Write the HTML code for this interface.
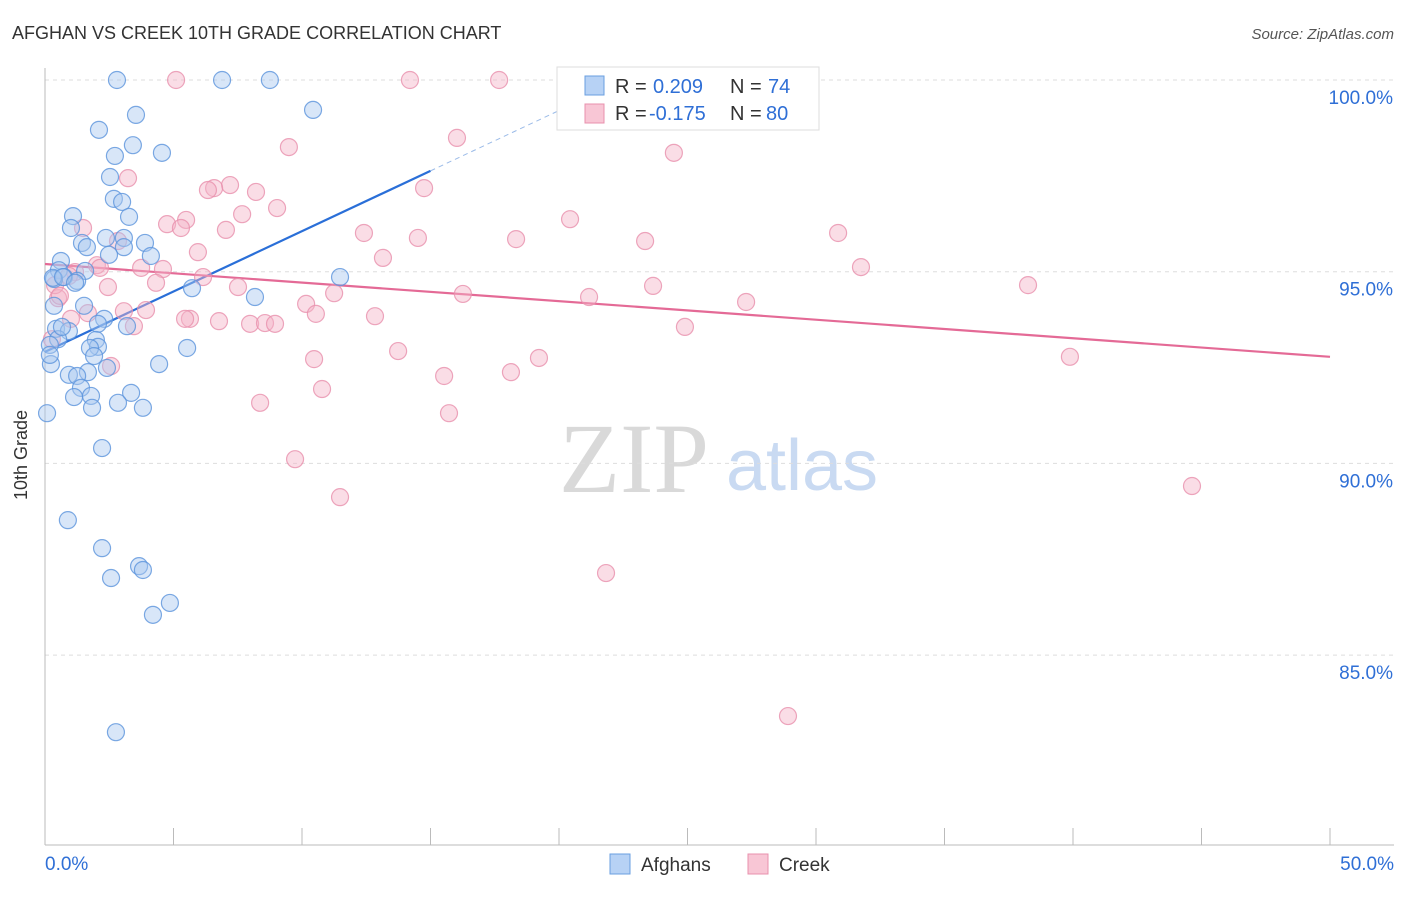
<!DOCTYPE html>
<html><head><meta charset="utf-8"><style>
body{margin:0;background:#fff;font-family:"Liberation Sans",sans-serif}
svg text{font-family:"Liberation Sans",sans-serif}
</style></head><body>
<svg id="c" width="1406" height="892" viewBox="0 0 1406 892">
<text x="12" y="39" font-size="18" fill="#333">AFGHAN VS CREEK 10TH GRADE CORRELATION CHART</text>
<text x="1394" y="39" font-size="15" fill="#555" text-anchor="end" font-style="italic">Source: ZipAtlas.com</text>
<text x="27" y="455" font-size="18" fill="#333" text-anchor="middle" transform="rotate(-90 27 455)">10th Grade</text>
<g><text x="634" y="492" font-size="100" fill="#d9d9d9" text-anchor="middle" style="font-family:'Liberation Serif',serif">ZIP</text><text x="802" y="490" font-size="72" fill="#c9daf2" text-anchor="middle">atlas</text></g>
<g id="grid"></g><g id="axes"></g><g id="lines"></g><g id="pts"></g>
<g>
<rect x="557" y="67" width="262" height="63" fill="#fff" stroke="#ddd"/>
<rect x="585" y="76" width="19" height="19" fill="#b7d2f5" stroke="#6a9fe0"/>
<rect x="585" y="104" width="19" height="19" fill="#f8c6d5" stroke="#e890ad"/>
<text x="615" y="93" font-size="20" fill="#333">R =</text>
<text x="653" y="93" font-size="20" fill="#2f6fd6">0.209</text>
<text x="730" y="93" font-size="20" fill="#333">N =</text>
<text x="768" y="93" font-size="20" fill="#2f6fd6">74</text>
<text x="615" y="120" font-size="20" fill="#333">R =</text>
<text x="649" y="120" font-size="20" fill="#2f6fd6">-0.175</text>
<text x="730" y="120" font-size="20" fill="#333">N =</text>
<text x="766" y="120" font-size="20" fill="#2f6fd6">80</text>
</g>
<g>
<rect x="610" y="854" width="20" height="20" fill="#b7d2f5" stroke="#6a9fe0"/>
<text x="641" y="871" font-size="19" fill="#333">Afghans</text>
<rect x="748" y="854" width="20" height="20" fill="#f8c6d5" stroke="#e890ad"/>
<text x="779" y="871" font-size="19" fill="#333">Creek</text>
</g>
</svg>
<script>
const xTicks=[0,5,10,15,20,25,30,35,40,45,50];
const yTicks=[100,95,90,85];
const yTickLabels=["100.0%","95.0%","90.0%","85.0%"];
const afghanX=[2.80,6.89,8.75,10.43,3.54,2.10,3.42,4.55,2.72,2.53,2.68,3.00,3.27,1.09,1.01,1.44,1.63,2.37,3.07,3.89,3.07,2.49,4.12,0.62,0.54,1.56,0.74,1.25,0.35,11.48,5.72,8.17,0.35,1.52,2.30,2.06,3.19,0.43,0.93,0.51,1.98,2.06,1.75,0.19,1.91,0.23,4.44,5.53,2.41,1.67,0.93,1.25,1.40,1.13,1.79,3.35,2.84,3.81,1.83,0.08,2.22,0.89,2.22,3.66,3.81,2.57,4.86,4.20,2.76,0.31,0.70,0.66,0.19,1.17];
const afghanY=[100,100,100,99.22,99.09,98.70,98.30,98.10,98.02,97.47,96.90,96.82,96.43,96.45,96.14,95.75,95.64,95.88,95.88,95.75,95.64,95.44,95.41,95.28,95.04,95.02,94.86,94.76,94.81,94.86,94.57,94.34,94.11,94.11,93.77,93.64,93.58,93.51,93.45,93.24,93.22,93.04,93.01,93.09,92.80,92.59,92.59,93.01,92.49,92.38,92.31,92.28,91.97,91.73,91.76,91.84,91.58,91.45,91.45,91.31,90.40,88.52,87.79,87.32,87.22,87.01,86.36,86.05,82.99,94.84,94.86,93.56,92.83,94.71];
const creekX=[5.10,14.20,17.67,22.84,16.03,9.49,24.47,3.23,7.20,14.75,6.58,6.34,8.21,9.03,7.67,20.43,5.49,4.75,5.29,1.48,7.04,12.41,30.86,14.51,18.33,23.35,2.84,5.95,13.15,2.02,3.74,4.59,31.75,1.17,6.15,4.32,2.45,7.51,23.66,38.25,16.26,11.25,21.17,27.28,0.51,10.16,10.54,3.93,3.07,1.67,5.64,6.77,7.98,8.56,8.95,3.46,12.84,24.90,13.74,10.47,39.88,19.22,2.57,15.53,18.13,10.78,8.37,15.72,9.73,11.48,44.63,21.83,28.91,0.39,0.93,0.58,0.27,2.14,1.01,5.45];
const creekY=[100,100,100,100,98.49,98.25,98.10,97.44,97.26,97.18,97.18,97.13,97.08,96.66,96.50,96.37,96.35,96.24,96.14,96.14,96.09,96.01,96.01,95.88,95.85,95.80,95.80,95.51,95.36,95.17,95.10,95.07,95.12,94.99,94.86,94.71,94.60,94.60,94.63,94.65,94.42,94.44,94.34,94.21,94.31,94.16,93.90,94.00,93.97,93.92,93.77,93.71,93.64,93.66,93.64,93.58,93.84,93.56,92.93,92.72,92.78,92.75,92.54,92.28,92.38,91.94,91.58,91.31,90.11,89.12,89.41,87.14,83.41,94.65,94.89,94.37,93.24,95.10,93.77,93.77];
const afghanTrend=[92.91,97.63];
const creekTrend=[95.20,92.78];
const NS="http://www.w3.org/2000/svg";
const X=v=>45+v*25.7, Y=v=>80+(100-v)*38.34;
function mk(t,a,p){const e=document.createElementNS(NS,t);for(const k in a)e.setAttribute(k,a[k]);p.appendChild(e);return e;}
const grid=document.getElementById('grid'),axes=document.getElementById('axes'),lines=document.getElementById('lines'),pts=document.getElementById('pts');
yTicks.forEach((t,i)=>{
 const l=mk('line',{x1:45,x2:1394,y1:Y(t),y2:Y(t),stroke:'#ddd','stroke-dasharray':'4 4'},grid);
 
 
 const tx=mk('text',{x:1393,y:Y(t)+24,'font-size':19,fill:'#2f6fd6','text-anchor':'end'},grid);
 tx.textContent=yTickLabels[i];
 
 
});
const xa=mk('line',{x1:45,x2:1394,y1:845,y2:845,stroke:'#bbb'},axes);


const ya=mk('line',{x1:45,x2:45,y1:68,y2:845,stroke:'#bbb'},axes);


xTicks.forEach(t=>{
 const l=mk('line',{x1:X(t),x2:X(t),y1:828,y2:845,stroke:'#bbb'},axes);
 
 
});
[[0,"0.0%","start",45],[50,"50.0%","end",1394]].forEach(d=>{
 const tx=mk('text',{x:d[3],y:870,'font-size':19,fill:'#2f6fd6','text-anchor':d[2]},axes);
 tx.textContent=d[1];
 
 
});
function dots(xs,ys,fill,stroke,name){xs.forEach((v,i)=>{
 const c=mk('circle',{cx:X(v),cy:Y(ys[i]),r:8.5,fill:fill,'fill-opacity':0.45,stroke:stroke,'stroke-opacity':0.8,'stroke-width':1.2},pts);
 
 
});}
dots(creekX,creekY,'#f5b3c8','#e890ad','creek-point');
dots(afghanX,afghanY,'#a9c8f0','#5b93dc','afghan-point');
const slope=(afghanTrend[1]-afghanTrend[0])/15;
const b1=mk('line',{x1:X(0),y1:Y(afghanTrend[0]),x2:X(15),y2:Y(afghanTrend[1]),stroke:'#2a6fd8','stroke-width':2.2},lines);


const xe=15+(100-afghanTrend[1])/slope;
const b2=mk('line',{x1:X(15),y1:Y(afghanTrend[1]),x2:X(xe),y2:Y(100),stroke:'#9bbbe8','stroke-width':1,'stroke-dasharray':'5 4'},lines);


const p1=mk('line',{x1:X(0),y1:Y(creekTrend[0]),x2:X(50),y2:Y(creekTrend[1]),stroke:'#e46a96','stroke-width':2.2},lines);


</script>
</body></html>
